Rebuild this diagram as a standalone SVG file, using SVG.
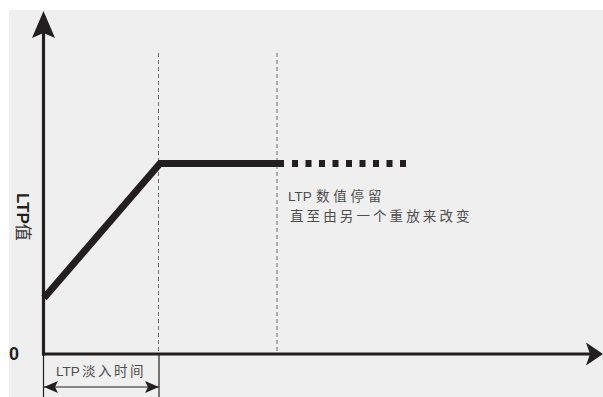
<svg xmlns="http://www.w3.org/2000/svg" width="603" height="397" viewBox="0 0 603 397">
<style>
.axis{stroke:#231f20;stroke-width:3.2;fill:none}
.guide{stroke:#6d6d6d;stroke-width:1;stroke-dasharray:4 3;fill:none}
.ext{stroke:#231f20;stroke-width:1.2;fill:none}
.lbl{font-family:"Noto Sans CJK SC",sans-serif;font-size:13.5px;fill:#4d4d4d}
.lat{font-family:"Liberation Sans",sans-serif;font-size:13.5px;fill:#4d4d4d;letter-spacing:0}
.head{fill:#231f20}
</style>
<defs>
<marker id="dimEnd" viewBox="0 0 14 12" refX="14" refY="6" markerWidth="14" markerHeight="12" markerUnits="userSpaceOnUse" orient="auto-start-reverse">
<path d="M0,0 L14,6 L0,12 L3,6 Z" class="head"/>
</marker>
</defs>
<rect x="9" y="10" width="594" height="387" fill="#efefef"/>
<g id="guides">
<line class="guide" x1="158.5" y1="53" x2="158.5" y2="354"/>
<line class="guide" x1="277" y1="53" x2="277" y2="354"/>
</g>
<g id="axes">
<line class="axis" x1="43.5" y1="30" x2="43.5" y2="355.5"/>
<path class="head" d="M43.5,11 L55,38 L43.5,33 L32,38 Z"/>
<line class="axis" x1="42" y1="354" x2="592" y2="354"/>
<path class="head" d="M603,354 L586,365.5 L590,354 L586,342.5 Z"/>
<text x="9" y="360" font-family="Liberation Sans,sans-serif" font-weight="bold" font-size="18" fill="#231f20">0</text>
<text transform="translate(17,193) rotate(90)" font-family="Liberation Sans,sans-serif" font-size="17" fill="#231f20"><tspan font-weight="bold">LTP</tspan><tspan font-family="'Noto Sans CJK SC',sans-serif" font-size="17" fill="#333">值</tspan></text>
</g>
<g id="curve">
<polyline points="44,298 160,163.5 284,163.5" fill="none" stroke="#231f20" stroke-width="7" stroke-linejoin="miter"/>
<line x1="292" y1="163.5" x2="408" y2="163.5" stroke="#231f20" stroke-width="7" stroke-dasharray="6 7.5"/>
</g>
<g id="note">
<text class="lbl" y="201"><tspan class="lat" x="288">LTP</tspan><tspan x="316" letter-spacing="3.8">数值停留</tspan></text>
<text class="lbl" x="290" y="221" letter-spacing="3.1">直至由另一个重放来改变</text>
</g>
<g id="dimension">
<line class="ext" x1="43.5" y1="355" x2="43.5" y2="397"/>
<line class="ext" x1="159" y1="355" x2="159" y2="397"/>
<line class="ext" x1="44" y1="387" x2="159" y2="387" marker-start="url(#dimEnd)" marker-end="url(#dimEnd)"/>
<text class="lbl" y="376"><tspan class="lat" x="56">LTP</tspan><tspan x="82" letter-spacing="2.5">淡入时间</tspan></text>
</g>
</svg>
